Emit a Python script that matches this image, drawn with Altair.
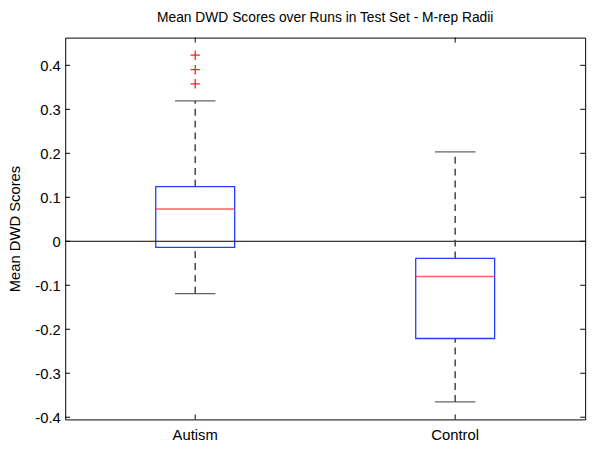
import altair as alt
import pandas as pd

# ---- data ----
categories = ["Autism", "Control"]
lower_whisker = [-0.119, -0.365]
q1 = [-0.014, -0.221]
median = [0.0735, -0.080]
q3 = [0.124, -0.039]
upper_whisker = [0.319, 0.203]

outlier_cats = ["Autism", "Autism", "Autism"]
outlier_vals = [0.423, 0.390, 0.358]

y_ticks = [-0.4, -0.3, -0.2, -0.1, 0, 0.1, 0.2, 0.3, 0.4]
y_domain = [-0.405, 0.463]
zero_line = [0]

W, H = 527, 387
FONT = "Liberation Sans"

summary = pd.DataFrame({
    "cat": categories, "lw": lower_whisker, "q1": q1,
    "med": median, "q3": q3, "uw": upper_whisker,
})
outliers = pd.DataFrame({"cat": outlier_cats, "v": outlier_vals})
yt = pd.DataFrame({"v": y_ticks})
zl = pd.DataFrame({"v": zero_line})
xt = pd.DataFrame({"cat": categories})

xsc = alt.Scale(domain=categories, paddingInner=0, paddingOuter=0)
ysc = alt.Scale(domain=y_domain, nice=False, zero=False)

x_axis = alt.Axis(title=None, ticks=False, domain=False, labelPadding=8,
                  labelFont=FONT, labelFontSize=15, labelColor="black", labelAngle=0)
y_axis = alt.Axis(title="Mean DWD Scores", values=y_ticks, ticks=False, domain=False,
                  grid=False, labelPadding=5, labelFont=FONT, labelFontSize=15,
                  labelColor="black", titleFont=FONT, titleFontSize=15,
                  titleFontWeight="normal", titleColor="black", titlePadding=12,
                  labelExpr="datum.value < 0 ? '-' + format(-datum.value, '.1~f') : format(datum.value, '.1~f')")


def X():
    return alt.X("cat:N", scale=xsc, axis=x_axis, sort=categories, title=None)


def Y(field):
    return alt.Y(field, scale=ysc, axis=y_axis, title="Mean DWD Scores")


base = alt.Chart(summary)

box = base.mark_bar(size=80, fillOpacity=0, stroke="#2040ff", strokeWidth=1.3).encode(
    x=X(), y=Y("q1:Q"), y2="q3:Q",
)

med = base.mark_tick(size=80, thickness=1.5, color="#ff2020").encode(
    x=X(), y=Y("med:Q"),
)

whisk_up = base.mark_rule(color="#444444", strokeWidth=1.5, strokeDash=[7, 5]).encode(
    x=X(), y=Y("q3:Q"), y2="uw:Q",
)
whisk_lo = base.mark_rule(color="#444444", strokeWidth=1.5, strokeDash=[7, 5]).encode(
    x=X(), y=Y("lw:Q"), y2="q1:Q",
)

cap_up = base.mark_tick(size=41, thickness=1.3, color="#222222").encode(
    x=X(), y=Y("uw:Q"),
)
cap_lo = base.mark_tick(size=41, thickness=1.3, color="#222222").encode(
    x=X(), y=Y("lw:Q"),
)

out = alt.Chart(outliers).mark_point(
    shape="M-1,0L1,0M0,-1L0,1", size=90, filled=False, color="#ff2020", strokeWidth=1.3, opacity=1
).encode(
    x=X(), y=Y("v:Q"),
)

zero = alt.Chart(zl).mark_rule(color="black", strokeWidth=1).encode(
    y=Y("v:Q"),
)

tick_l = alt.Chart(yt).mark_rule(color="black").encode(
    y=Y("v:Q"), x=alt.value(0), x2=alt.value(5))
tick_r = alt.Chart(yt).mark_rule(color="black").encode(
    y=Y("v:Q"), x=alt.value(W - 5), x2=alt.value(W))

tick_b = alt.Chart(xt).mark_rule(color="black").encode(
    x=X(), y=alt.value(H - 5), y2=alt.value(H))
tick_t = alt.Chart(xt).mark_rule(color="black").encode(
    x=X(), y=alt.value(0), y2=alt.value(5))

chart = alt.layer(
    box, zero, whisk_up, whisk_lo, cap_up, cap_lo, med, out, tick_l, tick_r, tick_b, tick_t
).properties(
    width=W, height=H,
    title=alt.Title("Mean DWD Scores over Runs in Test Set - M-rep Radii",
                    font=FONT, fontSize=14, fontWeight="normal", color="black", offset=12),
    autosize=alt.AutoSizeParams(type="none"),
    padding={"left": 58, "top": 27, "right": 12, "bottom": 30},
).configure(
    background="white",
    view=alt.ViewConfig(stroke="black", strokeWidth=1),
)

chart.save("out.html", embed_options={"renderer": "svg", "actions": False})
